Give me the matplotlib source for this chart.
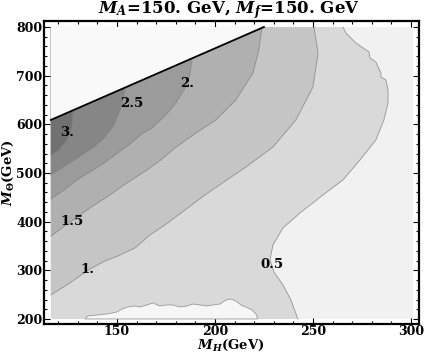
import matplotlib
matplotlib.use("Agg")
import matplotlib.pyplot as plt

plt.rcParams['mathtext.fontset'] = 'custom'
plt.rcParams['mathtext.rm'] = 'DejaVu Serif:bold'
plt.rcParams['mathtext.it'] = 'DejaVu Serif:italic:bold'
plt.rcParams['mathtext.bf'] = 'DejaVu Serif:bold'
plt.rcParams['font.family'] = ['DejaVu Serif']

# ---- data (M_H in GeV, M_Theta in GeV) ----
mh_range = [116.3, 301.0]
mt_range = [200.0, 800.0]

# kinematic boundary (black line)
boundary_mh = [116.3, 225.0]
boundary_mt = [609.0, 800.0]

levels = [0.5, 1.0, 1.5, 2.0, 2.5, 3.0]
level_labels = ["0.5", "1.", "1.5", "2.", "2.5", "3."]

c05_mh = [265.3, 266.8, 268.8, 271.9, 274.9, 278.6, 279.1, 282.1, 283.2, 284.7, 284.7,
          287.2, 288.3, 288.3, 286.2, 282.1, 274.0, 265.3, 255.1, 243.4, 234.7, 229.6,
          228.1, 230.1, 234.7, 238.8, 242.3]
c05_mt = [800.0, 787.7, 779.5, 767.1, 758.9, 748.6, 736.3, 728.1, 717.8, 705.5, 697.3,
          691.1, 670.5, 643.8, 608.9, 567.8, 526.7, 485.6, 454.8, 417.8, 387.0, 352.1,
          321.2, 296.6, 269.9, 239.0, 200.0]

c10_mh = [250.5, 252.6, 250.0, 241.3, 229.6, 215.8, 204.6, 194.9, 184.7, 174.5, 166.8,
          159.2, 150.5, 143.9, 136.2, 126.0, 116.3]
c10_mt = [800.0, 746.6, 676.7, 608.9, 553.4, 512.3, 481.5, 454.8, 424.0, 393.2, 372.6,
          345.9, 329.5, 319.2, 302.7, 274.0, 249.3]

c15_mh = [224.0, 222.4, 219.4, 210.7, 200.5, 190.3, 179.6, 172.4, 165.3, 155.1, 144.9,
          136.2, 127.6, 116.3]
c15_mt = [800.0, 752.7, 705.5, 650.0, 608.9, 582.2, 551.4, 526.7, 506.2, 479.5, 450.7,
          428.1, 403.4, 370.5]

c20_mh = [188.8, 188.3, 187.2, 184.7, 180.1, 174.5, 167.9, 162.8, 156.6, 149.0, 143.4,
          136.2, 129.6, 123.0, 116.3]
c20_mt = [752.7, 734.3, 701.4, 674.7, 643.8, 617.1, 592.5, 580.1, 559.6, 537.0, 520.5,
          502.1, 485.6, 465.1, 446.6]

c25_mh = [154.6, 154.1, 153.6, 152.0, 148.5, 143.4, 138.3, 126.5, 116.3]
c25_mt = [700.0, 680.8, 660.3, 633.6, 598.6, 571.9, 553.4, 522.6, 495.9]

c30_mh = [128.1, 127.6, 127.0, 124.5, 120.4, 116.3]
c30_mt = [650.0, 629.5, 594.5, 567.8, 547.3, 537.0]

# low-value patch near the bottom
low_mh = [133.7, 135.2, 139.8, 144.9, 150.0, 152.6, 155.6, 159.2, 161.7, 165.3, 168.4,
          171.9, 175.5, 178.6, 182.1, 185.7, 188.8, 192.3, 195.9, 199.0, 202.6, 205.6,
          208.2, 210.7, 213.3, 215.8, 218.9, 220.9, 221.9]
low_mt = [200.0, 206.2, 208.2, 210.3, 214.4, 220.5, 224.7, 226.7, 224.7, 228.8, 232.9,
          226.7, 228.8, 228.8, 224.7, 226.7, 230.8, 228.8, 226.7, 228.8, 230.8, 239.0,
          241.1, 237.0, 228.8, 224.7, 218.5, 210.3, 200.0]

label_mh = [229.1, 134.7, 127.0, 185.7, 157.7, 124.5]
label_mt = [311.0, 302.7, 399.3, 682.9, 641.8, 582.2]

band_colors = ['#f1f1f1', '#d9d9d9', '#c5c5c5', '#b0b0b0', '#9b9b9b', '#868686', '#717171']

# ---- figure ----
fig = plt.figure(figsize=(4.26, 3.54), dpi=100)
ax = fig.add_axes([44 / 426, 30 / 354, 375 / 426, 303 / 354])
ax.set_xlim(112.8, 304.1)
ax.set_ylim(189.7, 812.3)

x0, x1 = mh_range
y0, y1 = mt_range
ax.fill([x0, x1, x1, x0], [y0, y0, y1, y1], color=band_colors[0], lw=0, zorder=1)

contours = [(c05_mh, c05_mt), (c10_mh, c10_mt), (c15_mh, c15_mt),
            (c20_mh, c20_mt), (c25_mh, c25_mt), (c30_mh, c30_mt)]
for i, (cx, cy) in enumerate(contours):
    if i == 0:
        px = list(cx) + [x0, x0]
        py = list(cy) + [y0, y1]
    else:
        px = list(cx) + [x0]
        py = list(cy) + [y1]
    ax.fill(px, py, color=band_colors[i + 1], lw=0, zorder=1 + i * 0.01)
for cx, cy in contours:
    ax.plot(cx, cy, color='#808080', lw=0.6, alpha=0.8, zorder=2)

# low patch
ax.fill(low_mh, low_mt, facecolor='#f6f6f6', edgecolor='#9a9a9a', lw=0.6, zorder=2.5)

# region beyond the kinematic boundary
ax.fill([boundary_mh[0], boundary_mh[1], x0], [boundary_mt[0], boundary_mt[1], y1],
        color='#f9f9f9', lw=0, zorder=3)
ax.plot(boundary_mh, boundary_mt, color='black', lw=1.3, zorder=4)

for lx, ly, t in zip(label_mh, label_mt, level_labels):
    ax.text(lx, ly, t, ha='center', va='center', fontsize=9.5, fontweight='bold',
            family='DejaVu Serif', zorder=5)

ax.set_xticks([150, 200, 250, 300])
ax.set_yticks([200, 300, 400, 500, 600, 700, 800])
ax.set_xticks(range(120, 301, 10), minor=True)
ax.set_yticks(range(200, 801, 20), minor=True)
ax.tick_params(which='both', direction='in', top=True, right=True, width=0.8)
ax.tick_params(which='major', length=4, labelsize=9, pad=1)
ax.tick_params(which='minor', length=2)
for lab in ax.get_xticklabels() + ax.get_yticklabels():
    lab.set_fontweight('bold')
for s in ax.spines.values():
    s.set_linewidth(1.6)

fig.text(231 / 426, 1 - 345 / 354, r'$M_H$(GeV)', ha='center', va='center',
         fontsize=9.5, fontweight='bold')
fig.text(8.5 / 426, 1 - 173 / 354, r'$M_\Theta$(GeV)', ha='center', va='center',
         rotation=90, fontsize=9.5, fontweight='bold')
fig.text(229 / 426, 1 - 10 / 354, r'$M_A$=150. GeV, $M_f$=150. GeV', ha='center',
         va='center', fontsize=12, fontweight='bold')

fig.savefig('out.png', dpi=100)
